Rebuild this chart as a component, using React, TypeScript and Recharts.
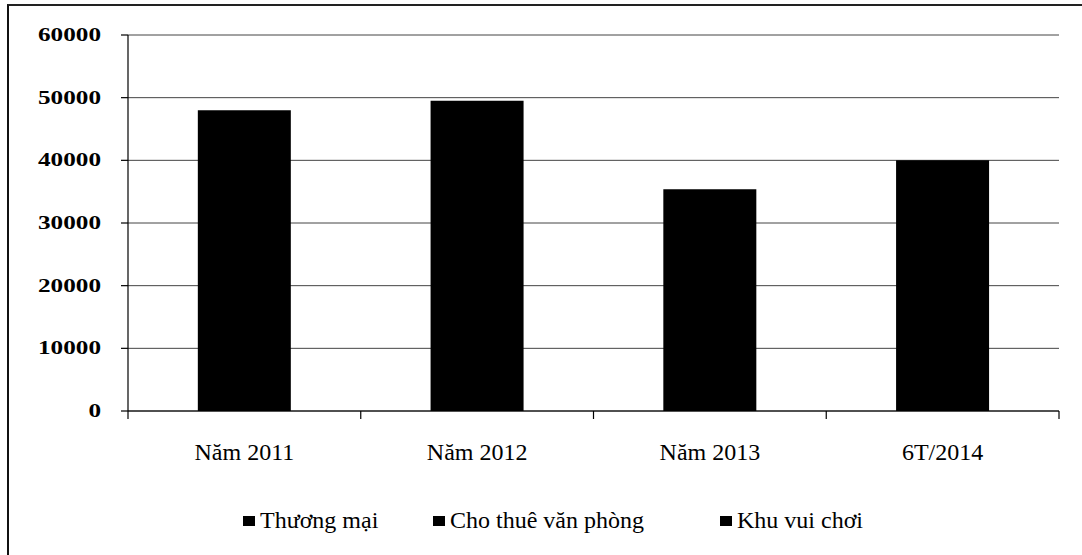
import React from 'react';
import { BarChart, Bar, XAxis, YAxis, CartesianGrid, Legend } from 'recharts';

// Doanh thu theo mảng (stacked) – chart only shows the totals as solid black columns
const categories = ['Năm 2011', 'Năm 2012', 'Năm 2013', '6T/2014'];
const thuongMai = [48000, 49500, 35400, 40000];
const choThueVanPhong = [0, 0, 0, 0];
const khuVuiChoi = [0, 0, 0, 0];
const yTicks = [0, 10000, 20000, 30000, 40000, 50000, 60000];
const seriesNames = ['Thương mại', 'Cho thuê văn phòng', 'Khu vui chơi'];

const data = categories.map((name, i) => ({
  name,
  tm: thuongMai[i],
  ct: choThueVanPhong[i],
  kv: khuVuiChoi[i],
}));

const FONT = '"Liberation Serif", "Times New Roman", serif';

const YTick = (props: any) => {
  const { x, y, payload } = props;
  const label = String(payload.value);
  return (
    <text
      x={x}
      y={y}
      dy={6}
      textAnchor="end"
      fontFamily={FONT}
      fontWeight="bold"
      fontSize={19}
      fill="#000"
      textLength={label.length * 12.6}
      lengthAdjust="spacingAndGlyphs"
    >
      {label}
    </text>
  );
};

// category label at band centre, tick marks on the band boundaries
const XTick = (props: any) => {
  const { x, y, payload, index, visibleTicksCount } = props;
  const half = payload.offset || 0;
  const last = index === visibleTicksCount - 1;
  return (
    <g>
      <line x1={x - half} y1={y - 8} x2={x - half} y2={y} stroke="#000" strokeWidth={1.2} />
      {last && <line x1={x + half} y1={y - 8} x2={x + half} y2={y} stroke="#000" strokeWidth={1.2} />}
      <text x={x} y={y + 41} textAnchor="middle" fontFamily={FONT} fontSize={24} fill="#000">
        {payload.value}
      </text>
    </g>
  );
};

const itemWidths = [190, 287, 200];

const renderLegend = () => (
  <div style={{ display: 'flex', paddingLeft: 243, fontFamily: FONT, fontSize: 24, color: '#000' }}>
    {seriesNames.map((n, i) => (
      <div key={n} style={{ width: itemWidths[i], display: 'flex', alignItems: 'center', whiteSpace: 'nowrap' }}>
        <span style={{ display: 'inline-block', width: 12, height: 10, background: '#000', marginRight: 5 }} />
        <span>{n}</span>
      </div>
    ))}
  </div>
);

export default function App() {
  return (
    <div style={{ position: 'relative', width: 1082, height: 555, overflow: 'hidden', background: '#fff' }}>
      <style>{'html,body{margin:0;padding:0;overflow:hidden;background:#fff}'}</style>
      <div
        style={{
          position: 'absolute',
          left: 7,
          top: 4,
          width: 1200,
          height: 700,
          borderLeft: '2px solid #111',
          borderTop: '2px solid #222',
        }}
      />
      <div style={{ position: 'absolute', left: 0, top: 0 }}>
        <BarChart
          width={1082}
          height={555}
          data={data}
          margin={{ top: 35, right: 23, bottom: 8, left: 58 }}
          barCategoryGap="30%"
        >
          <CartesianGrid vertical={false} stroke="#444" strokeWidth={1} />
          <XAxis
            dataKey="name"
            interval={0}
            tickLine={false}
            tickSize={8}
            tickMargin={0}
            axisLine={{ stroke: '#000', strokeWidth: 1.2 }}
            tick={<XTick />}
            height={96}
          />
          <YAxis
            domain={[0, 60000]}
            ticks={yTicks}
            interval={0}
            width={70}
            tickSize={7}
            tickMargin={20}
            axisLine={{ stroke: '#000', strokeWidth: 1.2 }}
            tickLine={{ stroke: '#000', strokeWidth: 1.2 }}
            tick={<YTick />}
          />
          <Legend verticalAlign="bottom" height={40} content={renderLegend} wrapperStyle={{ left: 0, width: 1082 }} />
          <Bar dataKey="tm" name={seriesNames[0]} stackId="a" fill="#000" isAnimationActive={false} />
          <Bar dataKey="ct" name={seriesNames[1]} stackId="a" fill="#000" isAnimationActive={false} />
          <Bar dataKey="kv" name={seriesNames[2]} stackId="a" fill="#000" isAnimationActive={false} />
        </BarChart>
      </div>
    </div>
  );
}
